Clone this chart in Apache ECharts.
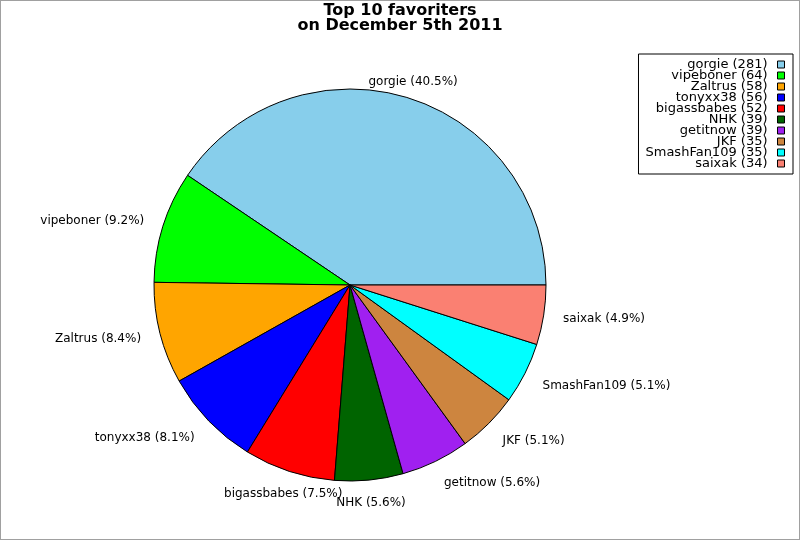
<!DOCTYPE html>
<html>
<head>
<meta charset="utf-8">
<script src="https://cdn.jsdelivr.net/npm/echarts@6/dist/echarts.min.js"></script>
<style>
  html, body { margin: 0; padding: 0; background: #fff; }
  #wrap { position: relative; width: 800px; height: 540px; }
  #chart { width: 800px; height: 540px; }
  #frame { position: absolute; left: 0; top: 0; right: 0; bottom: 0; border: 1px solid #a0a0a0; pointer-events: none; }
</style>
</head>
<body>
<div id="wrap"><div id="chart"></div><div id="frame"></div></div>
<script>
const names = ['gorgie', 'vipeboner', 'Zaltrus', 'tonyxx38', 'bigassbabes', 'NHK', 'getitnow', 'JKF', 'SmashFan109', 'saixak'];
const values = [281, 64, 58, 56, 52, 39, 39, 35, 35, 34];
const colors = ['#87CEEB', '#00FF00', '#FFA500', '#0000FF', '#FF0000', '#006400', '#A020F0', '#CD853F', '#00FFFF', '#FA8072'];
const titleLines = ['Top 10 favoriters', 'on December 5th 2011'];

const CX = 350, CY = 285, R = 196, LR = R * 1.1;
const total = values.reduce((a, b) => a + b, 0);
const cum = [];
values.reduce((acc, v, i) => { cum[i] = acc; return acc + v; }, 0);
const valueByName = {};
names.forEach((n, i) => { valueByName[n] = values[i]; });

const chart = echarts.init(document.getElementById('chart'), null, { renderer: 'canvas' });
chart.setOption({
  animation: false,
  backgroundColor: '#ffffff',
  title: {
    text: titleLines.join('\n'),
    left: 'center',
    top: 3,
    padding: 0,
    textStyle: { fontFamily: 'DejaVu Sans', fontSize: 16, fontWeight: 'bold', color: '#000', lineHeight: 15 }
  },
  legend: {
    orient: 'vertical',
    right: 7,
    top: 54,
    align: 'right',
    itemGap: -2,
    itemWidth: 7,
    itemHeight: 7,
    padding: [4, 8, 4, 7],
    borderColor: '#000',
    borderWidth: 1,
    selectedMode: false,
    icon: 'rect',
    itemStyle: { borderColor: '#000', borderWidth: 1 },
    formatter: function (n) { return n + ' (' + valueByName[n] + ')'; },
    textStyle: { fontFamily: 'DejaVu Sans', fontSize: 13, color: '#000', padding: [0, 5, 0, 0] },
    data: names
  },
  series: [{
    type: 'pie',
    center: [CX, CY],
    radius: R,
    startAngle: 0,
    clockwise: false,
    avoidLabelOverlap: false,
    silent: true,
    color: colors,
    itemStyle: { borderColor: '#000', borderWidth: 1 },
    label: {
      show: true,
      position: 'outside',
      fontFamily: 'DejaVu Sans',
      fontSize: 12,
      color: '#000',
      formatter: function (p) { return p.name + ' (' + (p.value / total * 100).toFixed(1) + '%)'; }
    },
    labelLine: { show: false },
    labelLayout: function (p) {
      const i = p.dataIndex;
      const mid = (cum[i] + values[i] / 2) / total * 2 * Math.PI;
      const c = Math.cos(mid), s = Math.sin(mid);
      const align = Math.abs(c) < 0.38 ? 'center' : (c > 0 ? 'left' : 'right');
      const dy = Math.abs(s) > 0.4 ? 3.5 : 0.5;
      return { x: CX + LR * c, y: CY - LR * s + dy, align: align, verticalAlign: 'middle' };
    },
    data: names.map((n, i) => ({ name: n, value: values[i] }))
  }]
});
</script>
</body>
</html>
